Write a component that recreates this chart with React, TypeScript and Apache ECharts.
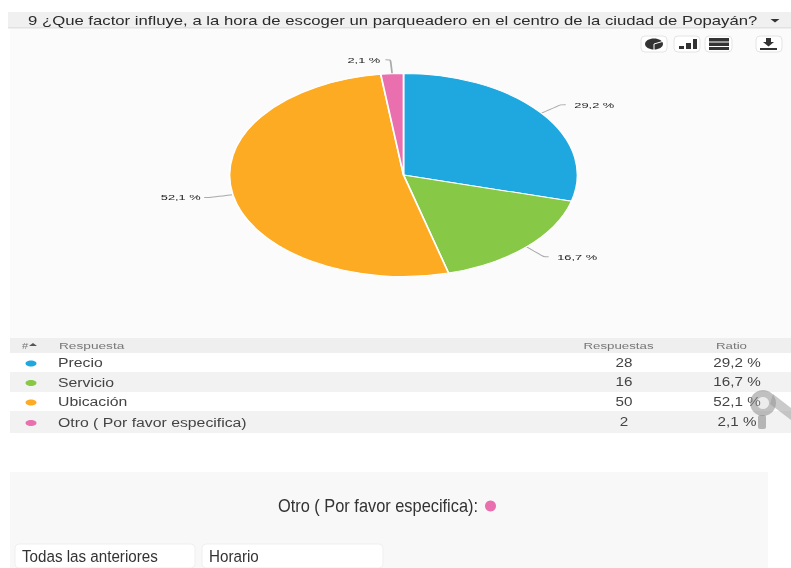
import React, { useEffect, useRef } from "react";
import * as echarts from "echarts";

const titleText = "9 ¿Que factor influye, a la hora de escoger un parqueadero en el centro de la ciudad de Popayán?";
const categories = ["Precio", "Servicio", "Ubicación", "Otro ( Por favor especifica)"];
const responses = [28, 16, 50, 2];
const ratios = ["29,2 %", "16,7 %", "52,1 %", "2,1 %"];
const colors = ["#1fa8e0", "#87c846", "#fdab22", "#e96fae"];
const headers = ["#", "Respuesta", "Respuestas", "Ratio"];
const otherTitle = "Otro ( Por favor especifica):";
const otherAnswers = ["Todas las anteriores", "Horario"];

const STRETCH = 1.714;
const FONT = "'Liberation Sans', Arial, sans-serif";
const rowTops = [353, 372, 392, 411, 433];
const labelNudge = [0, 0, 3, 2];

function txt(text: string, x: number, y: number, size: number, fill: string, scaleX = 1.2, align = "left", weight: any = "normal") {
  return {
    type: "text", x, y, scaleX, z: 5,
    style: { text, fill, fontSize: size, fontFamily: FONT, fontWeight: weight, align, verticalAlign: "middle" },
  };
}
function rect(x: number, y: number, width: number, height: number, fill: string, r = 0, stroke?: string, z = 1) {
  return { type: "rect", z, shape: { x, y, width, height, r }, style: { fill, stroke: stroke || "none", lineWidth: stroke ? 1 : 0 } };
}

function buildGraphics() {
  const g: any[] = [];
  g.push(rect(0, 0, 791, 568, "#ffffff", 0, undefined, 0));
  // Title bar and chart panel
  g.push(rect(10, 28, 781, 310, "#fbfbfb"));
  g.push(rect(8, 12, 783, 16, "#f0f0f0"));
  g.push(rect(8, 27, 783, 1.5, "#e2e2e2"));
  g.push(txt(titleText, 28, 20, 13, "#2a2a2a", 1.286));
  g.push({ type: "polygon", z: 5, shape: { points: [[770.5, 19], [779.5, 19], [775, 22.5]] }, style: { fill: "#333" } });
  // Toolbar
  [[641, 26], [674, 26], [705, 27], [756, 26]].forEach(([x, w]) => g.push(rect(x, 36, w, 16, "#ffffff", 4, "#e4e4e4", 3)));
  g.push({ type: "ellipse", z: 5, shape: { cx: 654, cy: 44, rx: 9, ry: 5.5 }, style: { fill: "#333" } });
  g.push({ type: "line", z: 6, shape: { x1: 654, y1: 44, x2: 664, y2: 41 }, style: { stroke: "#fff", lineWidth: 1 } });
  g.push({ type: "line", z: 6, shape: { x1: 654, y1: 44, x2: 654, y2: 50 }, style: { stroke: "#fff", lineWidth: 1 } });
  [[679, 46, 5, 3], [686, 43, 5, 6], [693, 39, 4, 10]].forEach(([x, y, w, h]) => g.push(rect(x, y, w, h, "#333", 0, undefined, 5)));
  g.push(rect(709, 38, 20, 3.5, "#333", 0, undefined, 5));
  g.push(rect(709, 42.5, 20, 3.5, "#333", 0, undefined, 5));
  g.push(rect(709, 47, 20, 3, "#333", 0, undefined, 5));
  g.push({ type: "polygon", z: 5, shape: { points: [[766, 38], [771, 38], [771, 42], [774, 42], [768.5, 46.5], [763, 42], [766, 42]] }, style: { fill: "#333" } });
  g.push(rect(760, 48, 17, 2, "#333", 0, undefined, 5));
  // Table
  g.push(rect(10, 338, 781, 15, "#efefef"));
  g.push(txt(headers[0], 22, 345.5, 8.5, "#777", 1.3));
  g.push({ type: "polygon", z: 5, shape: { points: [[29, 346], [37, 346], [33, 343]] }, style: { fill: "#555" } });
  g.push(txt(headers[1], 59, 345.5, 9, "#777", 1.52));
  g.push(txt(headers[2], 618.5, 345.5, 9, "#777", 1.476, "center"));
  g.push(txt(headers[3], 731.5, 345.5, 9, "#777", 1.476, "center"));
  categories.forEach((c, i) => {
    const top = rowTops[i], bottom = rowTops[i + 1], mid = (top + bottom) / 2;
    if (i % 2 === 1) g.push(rect(10, top, 781, bottom - top, "#f2f2f2"));
    g.push({ type: "ellipse", z: 5, shape: { cx: 31, cy: mid + 1, rx: 5.5, ry: 3 }, style: { fill: colors[i] } });
    g.push(txt(c, 58, mid + 0.5, 12, "#444", 1.317));
    g.push(txt(String(responses[i]), 624, mid + 0.5, 12, "#444", 1.27, "center"));
    g.push(txt(ratios[i], 737, mid + 0.5, 12, "#444", 1.27, "center"));
  });
  // Key watermark
  g.push({ type: "ring", z: 7, shape: { cx: 763, cy: 403, r: 13, r0: 6 }, style: { fill: "rgba(140,140,140,0.55)" } });
  g.push({ type: "circle", z: 7, shape: { cx: 763, cy: 403, r: 6 }, style: { fill: "rgba(200,200,200,0.35)" } });
  g.push(rect(758, 415, 8, 14, "rgba(140,140,140,0.6)", 2, undefined, 7));
  g.push({ type: "polygon", z: 7, shape: { points: [[773, 394], [791, 408], [791, 420], [770, 404]] }, style: { fill: "rgba(150,150,150,0.5)" } });
  // Lower panel
  g.push(rect(10, 472, 758, 96, "#f8f8f8"));
  g.push(txt(otherTitle, 278, 506, 18, "#333", 0.91));
  g.push({ type: "circle", z: 5, shape: { cx: 490.5, cy: 506, r: 5.5 }, style: { fill: colors[3] } });
  [[15, 180], [202, 181]].forEach(([x, w]) => g.push(rect(x, 544, w, 24, "#ffffff", 4, "#efefef", 3)));
  g.push(txt(otherAnswers[0], 22, 555.5, 17, "#333", 0.893));
  g.push(txt(otherAnswers[1], 209, 555.5, 17, "#333", 0.893));
  return g;
}

export default function App() {
  const baseRef = useRef<HTMLDivElement>(null);
  const pieRef = useRef<HTMLDivElement>(null);
  useEffect(() => {
    document.body.style.margin = "0";
    const base = echarts.init(baseRef.current!, undefined, { renderer: "svg" });
    base.setOption({ animation: false, graphic: { elements: buildGraphics() } });
    const pie = echarts.init(pieRef.current!, undefined, { renderer: "svg" });
    pie.setOption({
      animation: false,
      backgroundColor: "transparent",
      series: [{
        type: "pie",
        center: [403.5 / STRETCH, 175],
        radius: [0, 101.5],
        startAngle: 90,
        clockwise: true,
        color: colors,
        data: categories.map((name, i) => ({ name, value: responses[i] })),
        itemStyle: { borderColor: "#ffffff", borderWidth: 1 },
        label: {
          show: true,
          position: "outside",
          formatter: (p: any) => ratios[p.dataIndex],
          fontSize: 7.5,
          fontFamily: FONT,
          color: "#222222",
        },
        labelLayout: (p: any) => ({ dx: labelNudge[p.dataIndex] }),
        labelLine: { show: true, length: 14, length2: 3, smooth: 0.2, lineStyle: { color: "#aaaaaa", width: 1 } },
        emphasis: { disabled: true },
      }],
    });
    return () => { base.dispose(); pie.dispose(); };
  }, []);
  return (
    <div style={{ position: "fixed", left: 0, top: 0, width: 791, height: 568, overflow: "hidden" }}>
      <div ref={baseRef} style={{ position: "absolute", left: 0, top: 0, width: 791, height: 568 }} />
      <div ref={pieRef} style={{ position: "absolute", left: 0, top: 0, width: 791 / STRETCH, height: 338, transform: `scaleX(${STRETCH})`, transformOrigin: "0 0" }} />
    </div>
  );
}
